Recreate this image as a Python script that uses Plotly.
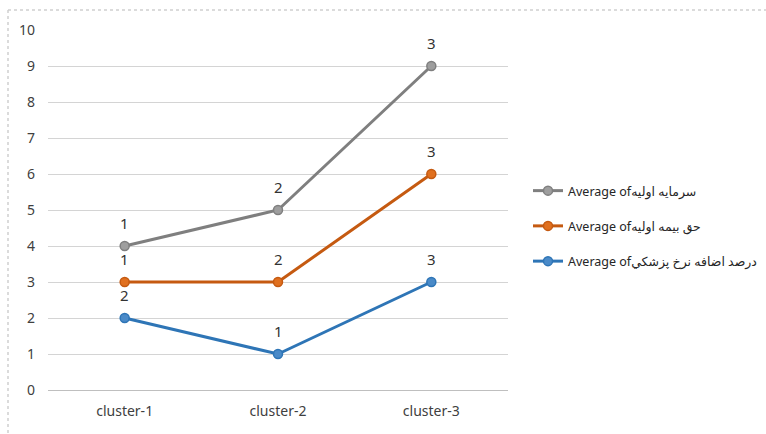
import plotly.graph_objects as go

categories = ["cluster-1", "cluster-2", "cluster-3"]
series_names = [
    "Average ofسرمايه اوليه",
    "Average ofحق بيمه اوليه",
    "Average ofدرصد اضافه نرخ پزشكي",
]
capital = [4, 5, 9]
premium = [3, 3, 6]
medical_rate = [2, 1, 3]
capital_labels = ["1", "2", "3"]
premium_labels = ["1", "2", "3"]
medical_labels = ["2", "1", "3"]
y_ticks = list(range(0, 11))

colors = ["#7F7F7F", "#C55A11", "#2E75B6"]
marker_fill = ["#9E9E9E", "#E0701F", "#4A8AC8"]

fig = go.Figure()
all_vals = [capital, premium, medical_rate]
all_labels = [capital_labels, premium_labels, medical_labels]
font_family = "Noto Sans, DejaVu Sans, sans-serif"

for i, (name, vals) in enumerate(zip(series_names, all_vals)):
    fig.add_trace(go.Scatter(
        x=categories, y=vals, name=name, mode="lines+markers",
        legendgroup=f"g{i}",
        line=dict(color=colors[i], width=3),
        marker=dict(size=9, color=marker_fill[i], line=dict(color=colors[i], width=1.5)),
    ))

annotations = []
for vals, labs in zip(all_vals, all_labels):
    for c, v, t in zip(categories, vals, labs):
        annotations.append(dict(
            x=c, y=v, xref="x", yref="y", text=t, showarrow=False,
            yshift=23, font=dict(size=15, color="#333333", family=font_family),
        ))

L, R, T, B = 48, 258, 30, 44
W, H = 766, 434
pw, ph = W - L - R, H - T - B
top_y = 1 + (T - 10) / ph
left_x = -(L - 8) / pw
right_x = (W - L) / pw
bot_y = -(B) / ph

fig.update_layout(
    width=W, height=H,
    margin=dict(l=L, r=R, t=T, b=B, pad=0, autoexpand=False),
    paper_bgcolor="white", plot_bgcolor="white",
    font=dict(family=font_family, size=14, color="#404040"),
    annotations=annotations,
    showlegend=True,
    legend=dict(
        xref="container", yref="container",
        x=528 / W, xanchor="left",
        y=1 - 176 / H, yanchor="top",
        tracegroupgap=16,
        itemwidth=30,
        font=dict(size=12.5, color="#262626", family=font_family),
        bgcolor="rgba(0,0,0,0)",
    ),
    xaxis=dict(
        type="category", range=[-0.5, 2.5], showgrid=False,
        showline=True, linecolor="#BFBFBF", linewidth=1,
        ticks="", ticklabelstandoff=8,
        tickfont=dict(size=14, color="#404040"),
        fixedrange=True,
    ),
    yaxis=dict(
        range=[0, 10], tickvals=y_ticks, showgrid=True, gridcolor="#D4D4D4",
        gridwidth=1, zeroline=False, showline=False, ticks="",
        ticklabelstandoff=12,
        tickfont=dict(size=14, color="#404040"),
    ),
    shapes=[
        dict(type="line", xref="paper", yref="paper", x0=left_x, x1=right_x,
             y0=top_y, y1=top_y, line=dict(color="#D0D0D0", width=1.5, dash="dot")),
        dict(type="line", xref="paper", yref="paper", x0=left_x, x1=left_x,
             y0=top_y, y1=bot_y, line=dict(color="#D0D0D0", width=1.5, dash="dot")),
    ],
)

fig.write_html("out.html")
